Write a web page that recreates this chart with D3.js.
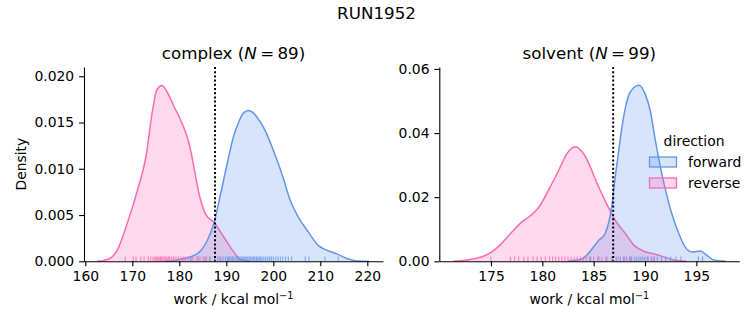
<!DOCTYPE html>
<html>
<head>
<meta charset="utf-8">
<script src="https://cdn.jsdelivr.net/npm/d3@7"></script>
<style>
  html, body { margin: 0; padding: 0; background: #fff; }
  text { font-family: "DejaVu Sans", sans-serif; fill: #000; }
</style>
</head>
<body>
<svg id="chart" width="753" height="325"></svg>
<script>
// ---------------- data ----------------
const suptitle = "RUN1952";
const directions = ["forward", "reverse"];
const dirColors = ["#6495ED", "#FF69B4"];

// complex panel
const complexN = 89;
const complexXTicks = [160, 170, 180, 190, 200, 210, 220];
const complexYTicks = [0.000, 0.005, 0.010, 0.015, 0.020];
const complexCutoff = 187.6;
const complexForwardX = [177, 179, 181, 183, 184.5, 186, 187.4, 188.8, 190.2, 191.6, 192.6, 193.6, 194.7, 195.6, 196.5, 198.2, 200, 201.8, 203.6, 205.3, 207.4, 209.6, 211.4, 213.5, 215.6, 218.7, 220.4];
const complexForwardD = [0, 0.0001, 0.0003, 0.0006, 0.0011, 0.0023, 0.0042, 0.0073, 0.0106, 0.0136, 0.0150, 0.0160, 0.0163, 0.0161, 0.0156, 0.0142, 0.0120, 0.0095, 0.0066, 0.0048, 0.0032, 0.0017, 0.0012, 0.0008, 0.0003, 0.0000, 0.0000];
const complexReverseX = [162.6, 164, 165.5, 166.8, 168, 168.9, 170, 171.1, 172.9, 174.3, 175.2, 176.3, 177.4, 178.9, 180.6, 182.1, 183.1, 184.2, 185.6, 187.4, 189.5, 191.6, 193, 195];
const complexReverseD = [0, 0.0001, 0.0004, 0.0012, 0.0027, 0.0041, 0.0058, 0.0077, 0.0113, 0.0163, 0.0185, 0.0190, 0.0183, 0.0167, 0.0149, 0.0127, 0.0102, 0.0073, 0.0051, 0.0042, 0.0026, 0.0010, 0.0002, 0];
const complexForwardRug = [182.5, 184, 185.5, 186.5, 187.5, 188.2, 188.8, 189.3, 189.8, 190.2, 190.6, 191, 191.3, 191.6, 192, 192.3, 192.6, 192.9, 193.2, 193.5, 193.8, 194, 194.3, 194.6, 194.9, 195.2, 195.5, 195.8, 196.1, 196.4, 196.7, 197, 197.3, 197.6, 198, 198.4, 198.8, 199.2, 199.6, 200, 200.5, 201, 201.5, 202, 202.6, 203.2, 203.9, 206.8, 207.6, 211, 213.8];
const complexReverseRug = [168.5, 170.2, 170.8, 171.8, 172.5, 173.4, 173.9, 174.4, 174.8, 175.1, 175.4, 175.7, 176, 176.2, 176.5, 176.8, 177.1, 177.4, 177.7, 178, 178.4, 178.8, 179.3, 179.8, 180.3, 180.8, 181.3, 181.8, 182.3, 182.9, 183.7, 184.4, 185.1, 185.8, 186.5, 187.6, 188.6, 190.5];

// solvent panel
const solventN = 99;
const solventXTicks = [175, 180, 185, 190, 195];
const solventYTicks = [0.00, 0.02, 0.04, 0.06];
const solventCutoff = 186.9;
const solventForwardX = [182.5, 183.3, 183.9, 184.5, 185.5, 186.1, 186.8, 187.1, 187.45, 187.76, 188.1, 188.57, 189.4, 190.0, 190.5, 191.0, 191.5, 192.0, 192.6, 193.3, 193.9, 194.6, 195.4, 196.0, 196.7, 197.85];
const solventForwardD = [0, 0.0003, 0.0008, 0.0025, 0.0066, 0.0086, 0.0180, 0.0263, 0.0346, 0.0419, 0.0481, 0.0528, 0.0549, 0.0523, 0.0471, 0.0378, 0.0294, 0.0222, 0.0149, 0.0086, 0.0045, 0.0029, 0.0032, 0.0019, 0.0004, 0];
const solventReverseX = [171.3, 172.5, 173.2, 174.2, 175.0, 175.8, 176.5, 177.2, 177.9, 178.7, 179.7, 180.6, 181.6, 182.4, 183.2, 184.1, 184.6, 185.2, 186.1, 187.1, 188.1, 189.0, 190.0, 191.0, 191.9, 192.9, 194];
const solventReverseD = [0, 0.0003, 0.0007, 0.0015, 0.0028, 0.0048, 0.0072, 0.0097, 0.0120, 0.0139, 0.0170, 0.0222, 0.0284, 0.0336, 0.0357, 0.0331, 0.0300, 0.0253, 0.0190, 0.0128, 0.0086, 0.0048, 0.0030, 0.0022, 0.0013, 0.0003, 0];
const solventForwardRug = [184.7, 185.5, 186.2, 186.8, 187.2, 187.6, 187.9, 188.2, 188.5, 188.7, 189, 189.2, 189.4, 189.6, 189.8, 190, 190.3, 190.6, 190.9, 191.2, 191.6, 192, 192.5, 193, 193.5, 195.2, 195.6];
const solventReverseRug = [175.0, 176.9, 177.3, 177.7, 178.2, 178.6, 179.1, 179.5, 179.9, 180.3, 180.7, 181, 181.3, 181.6, 181.9, 182.2, 182.5, 182.8, 183.1, 183.4, 183.7, 184, 184.3, 184.6, 185, 185.4, 185.8, 186.3, 186.8, 187.4, 188, 188.6, 190.2, 190.8];

// ---------------- drawing ----------------
const svg = d3.select("#chart");
svg.append("rect").attr("width", 753).attr("height", 325).attr("fill", "#fff");

svg.append("text").attr("x", 376.5).attr("y", 19).attr("text-anchor", "middle")
  .style("font-size", "16.7px").text(suptitle);

const panels = [
  { name: "complex", N: complexN, left: 84, right: 383, xDomain: [159.72, 223.34], yMax: 0.0210,
    xTicks: complexXTicks, yTicks: complexYTicks, yFmt: d3.format(".3f"), cutoff: complexCutoff,
    curves: [[complexForwardX, complexForwardD], [complexReverseX, complexReverseD]],
    rugs: [complexForwardRug, complexReverseRug], ylabel: true, legend: false },
  { name: "solvent", N: solventN, left: 439.3, right: 739.3, xDomain: [169.97, 199.18], yMax: 0.0606,
    xTicks: solventXTicks, yTicks: solventYTicks, yFmt: d3.format(".2f"), cutoff: solventCutoff,
    curves: [[solventForwardX, solventForwardD], [solventReverseX, solventReverseD]],
    rugs: [solventForwardRug, solventReverseRug], ylabel: false, legend: true }
];
const plotTop = 67, plotBottom = 261.3;

panels.forEach(p => {
  const x = d3.scaleLinear().domain(p.xDomain).range([p.left, p.right]);
  const y = d3.scaleLinear().domain([0, p.yMax]).range([plotBottom, plotTop]);
  const g = svg.append("g");

  // KDE fills + lines (reverse first, forward on top)
  [1, 0].forEach(i => {
    const xs = p.curves[i][0], ds = p.curves[i][1];
    const pts = xs.map((v, k) => [v, ds[k]]);
    const area = d3.area().x(d => x(d[0])).y0(y(0)).y1(d => y(d[1])).curve(d3.curveMonotoneX);
    const line = d3.line().x(d => x(d[0])).y(d => y(d[1])).curve(d3.curveMonotoneX);
    g.append("path").attr("d", area(pts)).attr("fill", dirColors[i]).attr("fill-opacity", 0.25);
    g.append("path").attr("d", line(pts)).attr("fill", "none").attr("stroke", dirColors[i]).attr("stroke-width", 1.5);
  });

  // rugs
  const rugH = (plotBottom - plotTop) * 0.025;
  [1, 0].forEach(i => {
    g.selectAll(null).data(p.rugs[i]).enter().append("line")
      .attr("x1", d => x(d)).attr("x2", d => x(d))
      .attr("y1", plotBottom).attr("y2", plotBottom - rugH)
      .attr("stroke", dirColors[i]).attr("stroke-width", 1.2).attr("stroke-opacity", 0.75);
  });

  // cutoff dotted line
  g.append("line").attr("x1", x(p.cutoff)).attr("x2", x(p.cutoff))
    .attr("y1", plotTop).attr("y2", plotBottom)
    .attr("stroke", "#000").attr("stroke-width", 2).attr("stroke-dasharray", "2,2.2");

  // axes
  const xa = svg.append("g").attr("transform", `translate(0,${plotBottom})`)
    .call(d3.axisBottom(x).tickValues(p.xTicks).tickFormat(d3.format("d")).tickSize(4.9).tickPadding(4.9).tickSizeOuter(0));
  const ya = svg.append("g").attr("transform", `translate(${p.left},0)`)
    .call(d3.axisLeft(y).tickValues(p.yTicks).tickFormat(p.yFmt).tickSize(4.9).tickPadding(4.9).tickSizeOuter(0));
  [xa, ya].forEach(a => {
    a.select(".domain").attr("stroke", "#000").attr("stroke-width", 1.1);
    a.selectAll(".tick line").attr("stroke", "#000").attr("stroke-width", 1.1);
    a.selectAll(".tick text").style("font-family", "DejaVu Sans").style("font-size", "13.9px").attr("fill", "#000");
  });

  // title
  const cx = (p.left + p.right) / 2;
  const t = svg.append("text").attr("x", cx).attr("y", 59).attr("text-anchor", "middle").style("font-size", "16.7px");
  t.append("tspan").text(p.name + " (");
  t.append("tspan").style("font-style", "italic").text("N");
  t.append("tspan").text("\u2009=\u2009" + p.N + ")");

  // x label
  const xl = svg.append("text").attr("x", cx).attr("y", 303.5).attr("text-anchor", "middle").style("font-size", "13.9px");
  xl.append("tspan").text("work / kcal mol");
  xl.append("tspan").attr("dy", -5).style("font-size", "9.7px").text("\u22121");

  if (p.ylabel) {
    svg.append("text").attr("transform", `translate(26,${(plotTop + plotBottom) / 2}) rotate(-90)`)
      .attr("text-anchor", "middle").style("font-size", "13.9px").text("Density");
  }

  if (p.legend) {
    const lg = svg.append("g");
    lg.append("text").attr("x", 694).attr("y", 146).attr("text-anchor", "middle").style("font-size", "13.9px").text("direction");
    directions.forEach((dname, i) => {
      const yy = 157 + i * 21;
      lg.append("rect").attr("x", 649.5).attr("y", yy).attr("width", 27).attr("height", 10)
        .attr("fill", dirColors[i]).attr("fill-opacity", 0.25).attr("stroke", dirColors[i]).attr("stroke-width", 1.3);
      lg.append("text").attr("x", 688).attr("y", yy + 9.5).style("font-size", "13.9px").text(dname);
    });
  }
});
</script>
</body>
</html>
